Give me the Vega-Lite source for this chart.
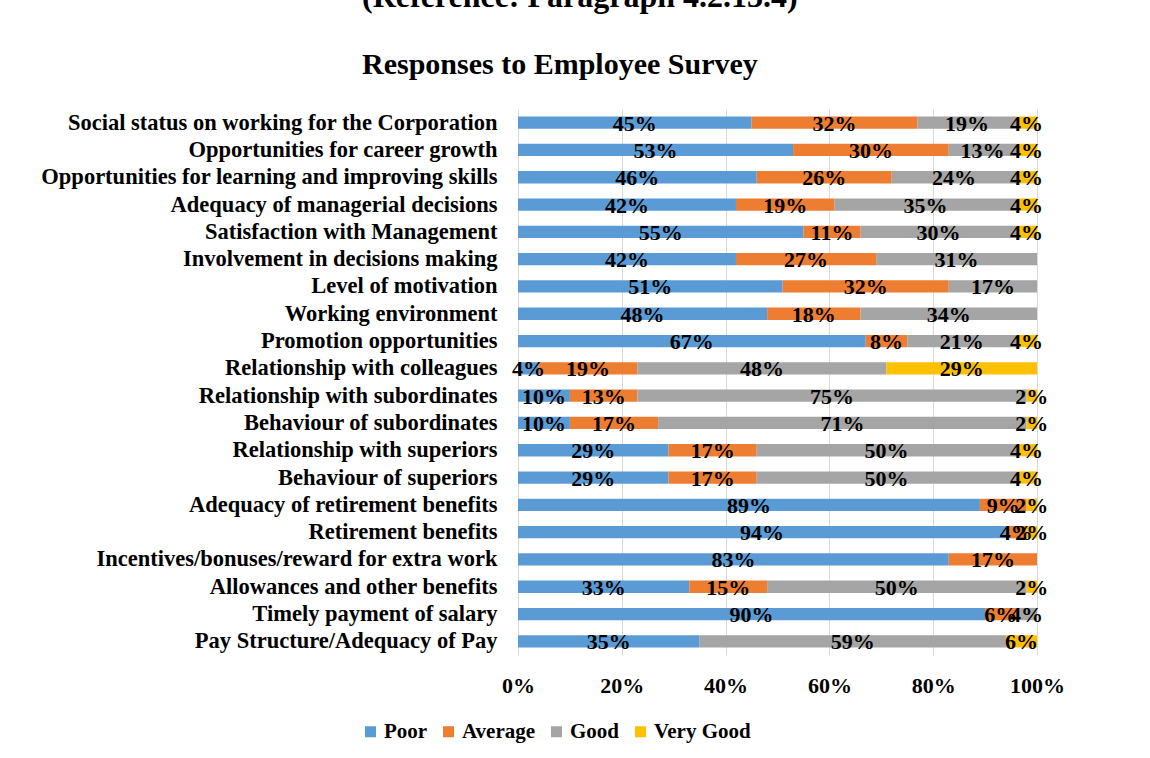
{
  "$schema": "https://vega.github.io/schema/vega-lite/v6.json",
  "width": 519,
  "height": 546,
  "autosize": {"type": "none"},
  "padding": {"left": 518, "top": 109, "right": 113, "bottom": 103},
  "background": "white",
  "title": {
    "text": "(Reference: Paragraph 4.2.13.4)",
    "subtitle": "Responses to Employee Survey",
    "font": "Liberation Serif",
    "fontSize": 32,
    "fontWeight": "bold",
    "color": "black",
    "subtitleFont": "Liberation Serif",
    "subtitleFontSize": 30,
    "subtitleFontWeight": "bold",
    "subtitleColor": "black",
    "subtitlePadding": 36,
    "anchor": "start",
    "frame": "group",
    "dx": -156,
    "offset": 28
  },
  "config": {
    "view": {"stroke": null},
    "font": "Liberation Serif"
  },
  "data": {
    "values": [
      {"q": "Social status on working for the Corporation", "c": "Poor", "v": 45, "o": 1},
      {"q": "Social status on working for the Corporation", "c": "Average", "v": 32, "o": 2},
      {"q": "Social status on working for the Corporation", "c": "Good", "v": 19, "o": 3},
      {"q": "Social status on working for the Corporation", "c": "Very Good", "v": 4, "o": 4},
      {"q": "Opportunities for career growth", "c": "Poor", "v": 53, "o": 1},
      {"q": "Opportunities for career growth", "c": "Average", "v": 30, "o": 2},
      {"q": "Opportunities for career growth", "c": "Good", "v": 13, "o": 3},
      {"q": "Opportunities for career growth", "c": "Very Good", "v": 4, "o": 4},
      {"q": "Opportunities for learning and improving skills", "c": "Poor", "v": 46, "o": 1},
      {"q": "Opportunities for learning and improving skills", "c": "Average", "v": 26, "o": 2},
      {"q": "Opportunities for learning and improving skills", "c": "Good", "v": 24, "o": 3},
      {"q": "Opportunities for learning and improving skills", "c": "Very Good", "v": 4, "o": 4},
      {"q": "Adequacy of managerial decisions", "c": "Poor", "v": 42, "o": 1},
      {"q": "Adequacy of managerial decisions", "c": "Average", "v": 19, "o": 2},
      {"q": "Adequacy of managerial decisions", "c": "Good", "v": 35, "o": 3},
      {"q": "Adequacy of managerial decisions", "c": "Very Good", "v": 4, "o": 4},
      {"q": "Satisfaction with Management", "c": "Poor", "v": 55, "o": 1},
      {"q": "Satisfaction with Management", "c": "Average", "v": 11, "o": 2},
      {"q": "Satisfaction with Management", "c": "Good", "v": 30, "o": 3},
      {"q": "Satisfaction with Management", "c": "Very Good", "v": 4, "o": 4},
      {"q": "Involvement in decisions making", "c": "Poor", "v": 42, "o": 1},
      {"q": "Involvement in decisions making", "c": "Average", "v": 27, "o": 2},
      {"q": "Involvement in decisions making", "c": "Good", "v": 31, "o": 3},
      {"q": "Level of motivation", "c": "Poor", "v": 51, "o": 1},
      {"q": "Level of motivation", "c": "Average", "v": 32, "o": 2},
      {"q": "Level of motivation", "c": "Good", "v": 17, "o": 3},
      {"q": "Working environment", "c": "Poor", "v": 48, "o": 1},
      {"q": "Working environment", "c": "Average", "v": 18, "o": 2},
      {"q": "Working environment", "c": "Good", "v": 34, "o": 3},
      {"q": "Promotion opportunities", "c": "Poor", "v": 67, "o": 1},
      {"q": "Promotion opportunities", "c": "Average", "v": 8, "o": 2},
      {"q": "Promotion opportunities", "c": "Good", "v": 21, "o": 3},
      {"q": "Promotion opportunities", "c": "Very Good", "v": 4, "o": 4},
      {"q": "Relationship with colleagues", "c": "Poor", "v": 4, "o": 1},
      {"q": "Relationship with colleagues", "c": "Average", "v": 19, "o": 2},
      {"q": "Relationship with colleagues", "c": "Good", "v": 48, "o": 3},
      {"q": "Relationship with colleagues", "c": "Very Good", "v": 29, "o": 4},
      {"q": "Relationship with subordinates", "c": "Poor", "v": 10, "o": 1},
      {"q": "Relationship with subordinates", "c": "Average", "v": 13, "o": 2},
      {"q": "Relationship with subordinates", "c": "Good", "v": 75, "o": 3},
      {"q": "Relationship with subordinates", "c": "Very Good", "v": 2, "o": 4},
      {"q": "Behaviour of subordinates", "c": "Poor", "v": 10, "o": 1},
      {"q": "Behaviour of subordinates", "c": "Average", "v": 17, "o": 2},
      {"q": "Behaviour of subordinates", "c": "Good", "v": 71, "o": 3},
      {"q": "Behaviour of subordinates", "c": "Very Good", "v": 2, "o": 4},
      {"q": "Relationship with superiors", "c": "Poor", "v": 29, "o": 1},
      {"q": "Relationship with superiors", "c": "Average", "v": 17, "o": 2},
      {"q": "Relationship with superiors", "c": "Good", "v": 50, "o": 3},
      {"q": "Relationship with superiors", "c": "Very Good", "v": 4, "o": 4},
      {"q": "Behaviour of superiors", "c": "Poor", "v": 29, "o": 1},
      {"q": "Behaviour of superiors", "c": "Average", "v": 17, "o": 2},
      {"q": "Behaviour of superiors", "c": "Good", "v": 50, "o": 3},
      {"q": "Behaviour of superiors", "c": "Very Good", "v": 4, "o": 4},
      {"q": "Adequacy of retirement benefits", "c": "Poor", "v": 89, "o": 1},
      {"q": "Adequacy of retirement benefits", "c": "Average", "v": 9, "o": 2},
      {"q": "Adequacy of retirement benefits", "c": "Very Good", "v": 2, "o": 4},
      {"q": "Retirement benefits", "c": "Poor", "v": 94, "o": 1},
      {"q": "Retirement benefits", "c": "Average", "v": 4, "o": 2},
      {"q": "Retirement benefits", "c": "Very Good", "v": 2, "o": 4},
      {"q": "Incentives/bonuses/reward for extra work", "c": "Poor", "v": 83, "o": 1},
      {"q": "Incentives/bonuses/reward for extra work", "c": "Average", "v": 17, "o": 2},
      {"q": "Allowances and other benefits", "c": "Poor", "v": 33, "o": 1},
      {"q": "Allowances and other benefits", "c": "Average", "v": 15, "o": 2},
      {"q": "Allowances and other benefits", "c": "Good", "v": 50, "o": 3},
      {"q": "Allowances and other benefits", "c": "Very Good", "v": 2, "o": 4},
      {"q": "Timely payment of salary", "c": "Poor", "v": 90, "o": 1},
      {"q": "Timely payment of salary", "c": "Average", "v": 6, "o": 2},
      {"q": "Timely payment of salary", "c": "Good", "v": 4, "o": 3},
      {"q": "Pay Structure/Adequacy of Pay", "c": "Poor", "v": 35, "o": 1},
      {"q": "Pay Structure/Adequacy of Pay", "c": "Good", "v": 59, "o": 3},
      {"q": "Pay Structure/Adequacy of Pay", "c": "Very Good", "v": 6, "o": 4}
    ]
  },
  "transform": [
    {"stack": "v", "groupby": ["q"], "sort": [{"field": "o", "order": "ascending"}], "offset": "normalize", "as": ["x0", "x1"]},
    {"calculate": "(datum.x0 + datum.x1) / 2", "as": "xm"},
    {"calculate": "datum.v + '%'", "as": "lbl"}
  ],
  "encoding": {
    "y": {
      "field": "q",
      "type": "nominal",
      "sort": null,
      "scale": {"paddingInner": 0.55, "paddingOuter": 0.275},
      "axis": {
        "title": null,
        "domain": false,
        "ticks": false,
        "labelPadding": 21,
        "labelLimit": 600,
        "labelFont": "Liberation Serif",
        "labelFontWeight": "bold",
        "labelFontSize": 22.5,
        "labelColor": "black"
      }
    }
  },
  "layer": [
    {
      "mark": {"type": "bar"},
      "encoding": {
        "x": {
          "field": "x0",
          "type": "quantitative",
          "scale": {"domain": [0, 1], "nice": false},
          "axis": {
            "values": [0, 0.2, 0.4, 0.6, 0.8, 1],
            "format": ".0%",
            "grid": true,
            "gridColor": "#d9d9d9",
            "gridWidth": 1,
            "domain": false,
            "ticks": false,
            "labelFlush": false,
            "labelPadding": 20,
            "labelFont": "Liberation Serif",
            "labelFontWeight": "bold",
            "labelFontSize": 22,
            "labelColor": "black",
            "title": null
          }
        },
        "x2": {"field": "x1"},
        "color": {
          "field": "c",
          "type": "nominal",
          "scale": {
            "domain": ["Poor", "Average", "Good", "Very Good"],
            "range": ["#5B9BD5", "#ED7D31", "#A5A5A5", "#FFC000"]
          },
          "legend": {
            "title": null,
            "orient": "none",
            "direction": "horizontal",
            "legendX": -158,
            "legendY": 612,
            "symbolType": "square",
            "symbolSize": 121,
            "symbolStrokeWidth": 0,
            "labelFont": "Liberation Serif",
            "labelFontWeight": "bold",
            "labelFontSize": 21,
            "labelColor": "black",
            "labelOffset": 3,
            "columnPadding": 10
          }
        }
      }
    },
    {
      "mark": {"type": "text", "font": "Liberation Serif", "fontWeight": "bold", "fontSize": 22, "color": "black", "baseline": "middle", "align": "center", "dy": 1},
      "encoding": {
        "x": {"field": "xm", "type": "quantitative"},
        "text": {"field": "lbl", "type": "nominal"}
      }
    }
  ]
}
